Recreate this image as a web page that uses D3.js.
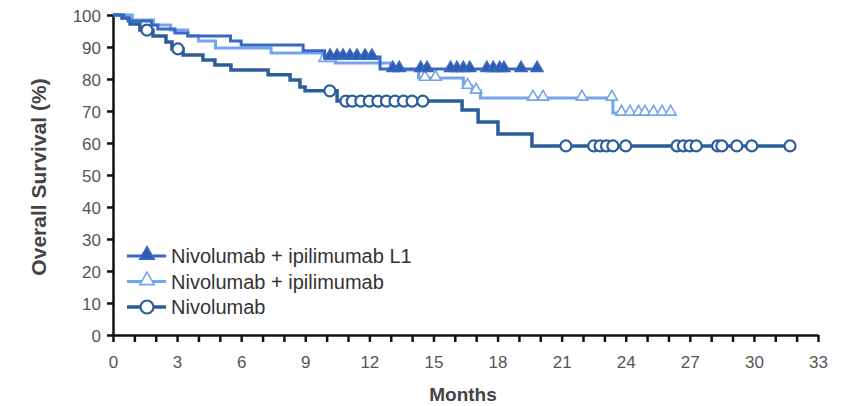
<!DOCTYPE html>
<meta charset="utf-8">
<script src="https://cdn.jsdelivr.net/npm/d3@7"></script>
<style>
    body { margin: 0; background: #fff; }
    .tick text { font-family: Arial, "Liberation Sans", sans-serif; }
</style>
<body>
<script>
// tick labels
var xTicks = [0, 3, 6, 9, 12, 15, 18, 21, 24, 27, 30, 33];
var yTicks = [0, 10, 20, 30, 40, 50, 60, 70, 80, 90, 100];

// Nivolumab + ipilimumab L1 (step times / survival / censor times)
var l1Time = [0, 0.5, 0.7, 1.8, 2.1, 2.9, 3.5, 5.5, 6.0, 8.9, 9.9, 12.5, 19.85];
var l1Surv = [100, 99.1, 98.1, 96.9, 95.6, 94.4, 93.4, 91.9, 90.6, 88.8, 86.9, 83.1, 83.1];
var l1Cens = [10.16, 10.49, 10.77, 11.09, 11.42, 11.8, 12.12, 13.1, 13.4, 14.4, 14.7,
              15.8, 16.1, 16.4, 16.7, 17.5, 17.8, 18.1, 18.3, 19.1, 19.85];

// Nivolumab + ipilimumab
var ipiTime = [0, 0.9, 1.9, 2.7, 3.5, 4.0, 4.8, 7.4, 9.8, 10.4, 13.0, 14.3, 16.4, 16.8, 17.2, 23.4, 26.2];
var ipiSurv = [100, 98.4, 96.9, 95.3, 93.5, 91.9, 89.7, 88.1, 86.2, 85.0, 82.8, 80.3, 77.8, 76.3, 74.1, 69.4, 69.4];
var ipiCens = [9.9, 10.2, 14.6, 15.1, 16.6, 17.0, 19.66, 20.13, 21.95, 23.35,
               23.8, 24.2, 24.6, 24.9, 25.3, 25.7, 26.1];

// Nivolumab
var nivoTime = [0, 0.42, 0.8, 1.26, 1.87, 2.48, 2.76, 3.28, 4.21, 4.77, 5.52, 7.26, 8.29, 8.75, 8.99,
                10.49, 16.34, 17.09, 18.02, 19.61, 31.69];
var nivoSurv = [100, 99.1, 97.2, 95.3, 93.4, 91.6, 89.4, 87.5, 85.9, 84.4, 82.8, 81.3, 79.7, 77.5, 76.3,
                73.1, 70.3, 66.6, 62.8, 59.1, 59.1];
var nivoCens = [1.59, 3.04, 10.15, 10.9, 11.2, 11.6, 12.0, 12.4, 12.8, 13.2, 13.6, 14.0, 14.5,
                21.2, 22.5, 22.8, 23.1, 23.4, 24.0, 26.4, 26.7, 27.0, 27.3, 28.3, 28.5, 29.2, 29.9, 31.69];

var series = [
    {name: "Nivolumab", t: nivoTime, s: nivoSurv, c: nivoCens, color: "#2b5d9b", mark: "circle", width: 3.5},
    {name: "Nivolumab + ipilimumab", t: ipiTime, s: ipiSurv, c: ipiCens, color: "#74a4ec", mark: "open", width: 3},
    {name: "Nivolumab + ipilimumab L1", t: l1Time, s: l1Surv, c: l1Cens, color: "#3869c2", mark: "filled", width: 3}
];

var W = 846, H = 406;
var x = d3.scaleLinear().domain([0, 33]).range([113, 818]);
var y = d3.scaleLinear().domain([0, 100]).range([335, 15]);

var svg = d3.select("body").append("svg")
    .attr("width", W)
    .attr("height", H);

// axes
var xAxis = svg.append("g")
    .attr("transform", "translate(0,335)")
    .call(d3.axisBottom(x).tickValues(d3.range(0, 34)).tickSize(7).tickSizeOuter(0)
        .tickFormat(function(d) { return xTicks.indexOf(d) >= 0 ? d : ""; }));
var yAxis = svg.append("g")
    .attr("transform", "translate(113,0)")
    .call(d3.axisLeft(y).tickValues(yTicks).tickSize(6).tickSizeOuter(0));

[xAxis, yAxis].forEach(function(a) {
    a.select(".domain").attr("stroke", "#111").attr("stroke-width", 2.5);
    a.selectAll(".tick line").attr("stroke", "#111").attr("stroke-width", 2.5);
    a.selectAll(".tick text").attr("fill", "#555").attr("font-size", "17px");
});
xAxis.selectAll(".tick text").attr("y", 21).attr("dy", "0.71em");
yAxis.selectAll(".tick text").attr("dy", "0.36em").attr("x", -12);

// titles
svg.append("text")
    .attr("transform", "translate(46,177) rotate(-90)")
    .attr("text-anchor", "middle")
    .style("font-family", "Arial, 'Liberation Sans', sans-serif")
    .style("font-weight", "bold")
    .style("font-size", "21px")
    .style("fill", "#444")
    .text("Overall Survival (%)");

svg.append("text")
    .attr("x", 463).attr("y", 401)
    .attr("text-anchor", "middle")
    .style("font-family", "Arial, 'Liberation Sans', sans-serif")
    .style("font-weight", "bold")
    .style("font-size", "19px")
    .style("fill", "#444")
    .text("Months");

function survAt(d, t) {
    var v = d.s[0];
    for (var i = 0; i < d.t.length; i++) { if (d.t[i] <= t) v = d.s[i]; }
    return v;
}

function drawMark(g, d, cx, cy, big) {
    if (d.mark == "circle") {
        g.append("circle").attr("cx", cx).attr("cy", cy).attr("r", big ? 6.5 : 5.5)
            .attr("fill", "#fff").attr("stroke", d.color).attr("stroke-width", 2.2);
    } else {
        g.append("path")
            .attr("d", d3.symbol().type(d3.symbolTriangle).size(big ? 90 : (d.mark == "filled" ? 60 : 55))())
            .attr("transform", "translate(" + cx + "," + (cy - 1) + ")")
            .attr("fill", d.mark == "filled" ? "#2d5cb0" : "#fff")
            .attr("stroke", d.color).attr("stroke-width", 1.6);
    }
}

var line = d3.line()
    .x(function(p) { return x(p[0]); })
    .y(function(p) { return y(p[1]); })
    .curve(d3.curveStepAfter);

series.forEach(function(d) {
    var g = svg.append("g");
    g.append("path")
        .attr("d", line(d3.zip(d.t, d.s)))
        .attr("fill", "none")
        .attr("stroke", d.color)
        .attr("stroke-width", d.width);
    d.c.forEach(function(t) { drawMark(g, d, x(t), y(survAt(d, t))); });
});

// legend
var legend = [series[2], series[1], series[0]];
legend.forEach(function(d, i) {
    var ly = 256 + i * 25.5;
    var g = svg.append("g");
    g.append("line").attr("x1", 127).attr("x2", 166).attr("y1", ly).attr("y2", ly)
        .attr("stroke", d.color).attr("stroke-width", d.width);
    drawMark(g, d, 147, ly, true);
    g.append("text")
        .attr("x", 171).attr("y", ly).attr("dy", "0.36em")
        .style("font-family", "Arial, 'Liberation Sans', sans-serif")
        .style("font-size", "20px")
        .style("fill", "#333")
        .text(d.name);
});
</script>
</body>
</html>
